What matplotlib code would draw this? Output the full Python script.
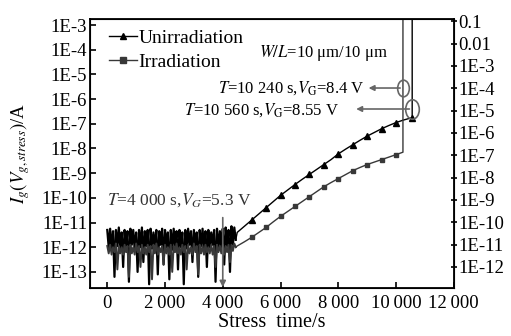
import numpy as np
import matplotlib
matplotlib.use('Agg')
import matplotlib.pyplot as plt
from matplotlib.lines import Line2D
from matplotlib.path import Path
from matplotlib.transforms import Affine2D
from matplotlib.ticker import FixedLocator, NullLocator

plt.rcParams['font.family'] = ['Liberation Serif', 'DejaVu Serif']
plt.rcParams['mathtext.fontset'] = 'stix'
plt.rcParams['font.size'] = 13

# ---- data (log10 of gate current, A) ----
# noisy low-current region, one reading every 50 s
noise_t = np.arange(0, 4500, 50)
unirr_noise = [
    -11.30, -12.00, -11.25, -12.10, -11.35, -13.20, -11.30, -11.95, -11.20, -12.05,
    -11.40, -12.80, -11.30, -12.00, -11.35, -13.40, -11.25, -11.90, -11.30, -12.10,
    -11.40, -13.00, -11.30, -12.00, -11.20, -12.60, -11.35, -11.95, -11.30, -13.50,
    -11.25, -12.05, -11.40, -12.00, -11.30, -13.10, -11.35, -11.90, -11.25, -12.70,
    -11.30, -12.00, -11.40, -13.30, -11.30, -12.10, -11.25, -11.95, -11.35, -12.90,
    -11.30, -12.00, -11.40, -13.50, -11.30, -12.05, -11.25, -11.90, -11.35, -12.60,
    -11.30, -12.00, -11.40, -13.20, -11.30, -11.95, -11.25, -12.10, -11.35, -12.80,
    -11.30, -12.00, -11.40, -11.90, -11.30, -13.40, -11.25, -12.05, -11.35, -12.00,
    -11.25, -12.70, -11.20, -11.95, -11.30, -13.00, -11.15, -11.90, -11.20, -11.70]
irr_noise = [
    -11.95, -12.25, -11.90, -12.30, -12.00, -12.20, -11.85, -12.90, -11.95, -12.25,
    -12.00, -12.30, -11.90, -12.20, -11.95, -13.20, -11.90, -12.25, -12.00, -12.30,
    -11.85, -12.20, -11.95, -12.80, -11.90, -12.25, -12.00, -12.30, -11.90, -12.20,
    -11.95, -13.30, -11.90, -12.25, -11.85, -12.30, -12.00, -12.20, -11.95, -12.70,
    -11.90, -12.25, -12.00, -12.30, -11.90, -13.00, -11.95, -12.20, -11.85, -12.25,
    -12.00, -12.30, -11.90, -12.20, -11.95, -12.90, -11.90, -12.25, -12.00, -12.30,
    -11.85, -12.20, -11.95, -13.10, -11.90, -12.25, -11.95, -12.30, -11.90, -12.20,
    -12.00, -12.25, -11.90, -12.30, -11.95, -12.80, -11.90, -12.20, -11.95, -12.25,
    -11.90, -12.30, -11.95, -12.20, -11.90, -12.60, -11.90, -12.15, -11.85, -12.00]

# rising part
unirr_t = [4500, 4750, 5000, 5250, 5500, 5750, 6000, 6250, 6500, 6750, 7000, 7250, 7500,
           7750, 8000, 8250, 8500, 8750, 9000, 9250, 9500, 9750, 10000, 10250, 10560]
unirr_rise = [-11.40, -11.15, -10.90, -10.65, -10.40, -10.15, -9.90, -9.68, -9.46, -9.25,
              -9.05, -8.85, -8.65, -8.45, -8.22, -8.03, -7.85, -7.67, -7.50, -7.35,
              -7.20, -7.07, -6.95, -6.85, -6.75]
irr_t = [4500, 4750, 5000, 5250, 5500, 5750, 6000, 6250, 6500, 6750, 7000, 7250, 7500,
         7750, 8000, 8250, 8500, 8750, 9000, 9250, 9500, 9750, 10000, 10240]
irr_rise = [-11.95, -11.78, -11.60, -11.40, -11.20, -10.97, -10.75, -10.55, -10.35, -10.15,
            -9.95, -9.75, -9.55, -9.38, -9.22, -9.06, -8.90, -8.77, -8.65, -8.55,
            -8.45, -8.35, -8.25, -8.15]
breakdown_level = -2.0  # current after breakdown (off the top of the axis)

left_ticks = [-3, -4, -5, -6, -7, -8, -9, -10, -11, -12, -13]
left_labels = ['1E-3', '1E-4', '1E-5', '1E-6', '1E-7', '1E-8', '1E-9', '1E-10', '1E-11', '1E-12', '1E-13']
right_ticks = [-1, -2, -3, -4, -5, -6, -7, -8, -9, -10, -11, -12]
right_labels = ['0.1', '0.01', '1E-3', '1E-4', '1E-5', '1E-6', '1E-7', '1E-8', '1E-9', '1E-10', '1E-11', '1E-12']
x_ticks = [0, 2000, 4000, 6000, 8000, 10000, 12000]
x_labels = ['0', '2\u2009000', '4\u2009000', '6\u2009000', '8\u2009000', '10\u2009000', '12\u2009000']

irr_color = '#383838'
ann_color = '#666666'

fig = plt.figure(figsize=(5.11, 3.36), dpi=100)
ax = fig.add_axes([0.176, 0.143, 0.712, 0.8])

# unirradiated: noisy band, then rise and breakdown
ax.plot(noise_t, 10 ** np.array(unirr_noise), color='black', lw=1.6)
u_t = np.concatenate([noise_t[-1:], unirr_t, [unirr_t[-1]]])
u_y = 10 ** np.concatenate([unirr_noise[-1:], unirr_rise, [breakdown_level]])
ax.plot(u_t, u_y, color='black', lw=1.0)
ax.plot(unirr_t[2::2], 10 ** np.array(unirr_rise[2::2]), ls='none', marker='^', ms=4, color='black')

# irradiated
ax.plot(noise_t, 10 ** np.array(irr_noise), color=irr_color, lw=1.4)
i_t = np.concatenate([noise_t[-1:], irr_t, [irr_t[-1]]])
i_y = 10 ** np.concatenate([irr_noise[-1:], irr_rise, [breakdown_level]])
ax.plot(i_t, i_y, color=irr_color, lw=1.0)
ax.plot(irr_t[2::2], 10 ** np.array(irr_rise[2::2]), ls='none', marker='s', ms=3.5, color=irr_color)

ax.set_yscale('log')
ax.set_xlim(-600, 12000)
ax.set_ylim(10 ** -13.65, 10 ** -2.76)
ax.yaxis.set_major_locator(FixedLocator([10.0 ** k for k in left_ticks]))
ax.yaxis.set_minor_locator(NullLocator())
ax.set_yticklabels(left_labels)
ax.set_xticks(x_ticks)
ax.set_xticklabels(x_labels)
ax.tick_params(axis='both', direction='in', length=4, width=1.2, labelsize=13.5)
ax.tick_params(axis='y', pad=2)
ax.tick_params(axis='x', top=False, pad=5)
for s in ax.spines.values():
    s.set_linewidth(1.3)

ax.set_xlabel('Stress  time/s', fontsize=14.5, labelpad=1)
ax.set_ylabel(r'$I_g(V_{g,stress})$/A', fontsize=13.5, labelpad=7)

ax2 = ax.twinx()
ax2.set_yscale('log')
ax2.set_ylim(10 ** -12.94, 10 ** -0.91)
ax2.yaxis.set_major_locator(FixedLocator([10.0 ** k for k in right_ticks]))
ax2.yaxis.set_minor_locator(NullLocator())
ax2.set_yticklabels(right_labels)
ax2.tick_params(axis='y', direction='inout', length=5, width=1.2, labelsize=13.5, pad=1)

# legend
handles = [Line2D([], [], color='black', marker='^', ms=5, lw=1.0),
           Line2D([], [], color=irr_color, marker='s', ms=4.5, lw=1.0)]
ax.legend(handles, ['Unirradiation', 'Irradiation'], loc='upper left', frameon=False,
          fontsize=14, handlelength=1.45, handletextpad=0.1, labelspacing=0.36,
          borderaxespad=0.2, borderpad=0.1, bbox_to_anchor=(0.035, 0.985))

# annotations
ax.text(5250, 10 ** -4.13, r'$W/L$=10 μm/10 μm', fontsize=12, va='center')
ax.text(3850, 10 ** -5.55, r'$T$=10 240 s,$V_{\rm G}$=8.4 V', fontsize=12, va='center')
ax.text(2650, 10 ** -6.44, r'$T$=10 560 s,$V_{\rm G}$=8.55 V', fontsize=12, va='center')
ax.text(0, 10 ** -10.08, r'$T$=4 000 s,$V_G$=5.3 V', fontsize=12.5, va='center', color='#333333')

ax.annotate('', xy=(9050, 10 ** -5.55), xytext=(10240, 10 ** -5.55),
            arrowprops=dict(arrowstyle='-|>', color=ann_color, lw=1.2, mutation_scale=8, shrinkB=0))
ax.annotate('', xy=(8620, 10 ** -6.4), xytext=(10560, 10 ** -6.4),
            arrowprops=dict(arrowstyle='-|>', color=ann_color, lw=1.2, mutation_scale=8, shrinkB=0))
ax.annotate('', xy=(4000, 10 ** -13.62), xytext=(4000, 10 ** -10.8),
            arrowprops=dict(arrowstyle='-|>', color=ann_color, lw=1.2, mutation_scale=9, shrinkA=0, shrinkB=0))

ell = Path.unit_circle().transformed(Affine2D().scale(0.7, 1.0))
ax.plot([10240], [10 ** -5.55], ls='none', marker=ell, ms=12, mfc='none', mec=ann_color, mew=1.2)
ax.plot([10560], [10 ** -6.4], ls='none', marker=ell, ms=14, mfc='none', mec=ann_color, mew=1.2)

fig.savefig('out.png', dpi=100)
